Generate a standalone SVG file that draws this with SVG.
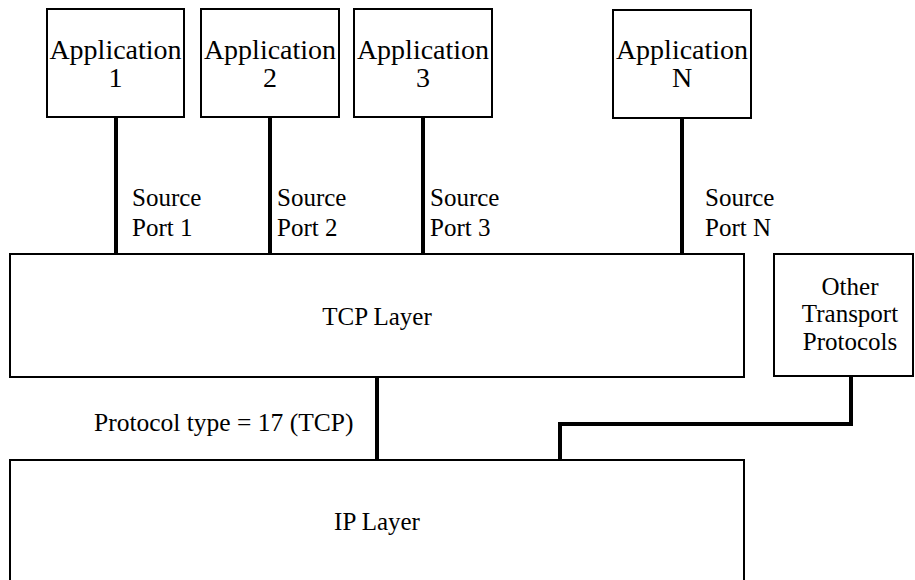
<svg xmlns="http://www.w3.org/2000/svg" width="915" height="580" viewBox="0 0 915 580">
<style>
.box{fill:#fff;stroke:#000;stroke-width:2}
.t{font-family:"Liberation Serif","Times New Roman",serif;fill:#000}
.c{text-anchor:middle}
.conn{fill:none;stroke:#000;stroke-width:4;stroke-linejoin:miter}
</style>
<rect width="915" height="580" fill="#fff"/>
<g id="connectors">
<line class="conn" x1="116" y1="117" x2="116" y2="254"/>
<line class="conn" x1="270" y1="117" x2="270" y2="254"/>
<line class="conn" x1="423" y1="117" x2="423" y2="254"/>
<line class="conn" x1="682" y1="118" x2="682" y2="254"/>
<line class="conn" x1="377" y1="377" x2="377" y2="460"/>
<polyline class="conn" points="851,376 851,424 560,424 560,460"/>
</g>
<g id="app1">
<rect class="box" x="47" y="9" width="137" height="108"/>
<text class="t c" font-size="28" x="115.5" y="59">Application</text>
<text class="t c" font-size="28" x="115.5" y="87">1</text>
</g>
<g id="app2">
<rect class="box" x="201" y="9" width="138" height="108"/>
<text class="t c" font-size="28" x="270" y="59">Application</text>
<text class="t c" font-size="28" x="270" y="87">2</text>
</g>
<g id="app3">
<rect class="box" x="354" y="9" width="138" height="108"/>
<text class="t c" font-size="28" x="423" y="59">Application</text>
<text class="t c" font-size="28" x="423" y="87">3</text>
</g>
<g id="appN">
<rect class="box" x="613" y="10" width="138" height="108"/>
<text class="t c" font-size="28" x="682" y="59">Application</text>
<text class="t c" font-size="28" x="682" y="87">N</text>
</g>
<g id="port-labels">
<text class="t" font-size="25" x="132" y="206">Source</text>
<text class="t" font-size="25" x="132" y="236">Port 1</text>
<text class="t" font-size="25" x="277" y="206">Source</text>
<text class="t" font-size="25" x="277" y="236">Port 2</text>
<text class="t" font-size="25" x="430" y="206">Source</text>
<text class="t" font-size="25" x="430" y="236">Port 3</text>
<text class="t" font-size="25" x="705" y="206">Source</text>
<text class="t" font-size="25" x="705" y="236">Port N</text>
</g>
<g id="tcp">
<rect class="box" x="10" y="254" width="734" height="123"/>
<text class="t c" font-size="25" x="377" y="325">TCP Layer</text>
</g>
<g id="other">
<rect class="box" x="774" y="254" width="139" height="122"/>
<text class="t c" font-size="25" x="850" y="295">Other</text>
<text class="t c" font-size="25" x="850" y="322">Transport</text>
<text class="t c" font-size="25" x="850" y="350">Protocols</text>
</g>
<g id="protocol-label">
<text class="t" font-size="25.5" x="94" y="431">Protocol type = 17 (TCP)</text>
</g>
<g id="ip">
<rect class="box" x="10" y="460" width="734" height="140"/>
<text class="t c" font-size="25" x="377" y="530">IP Layer</text>
</g>
</svg>
